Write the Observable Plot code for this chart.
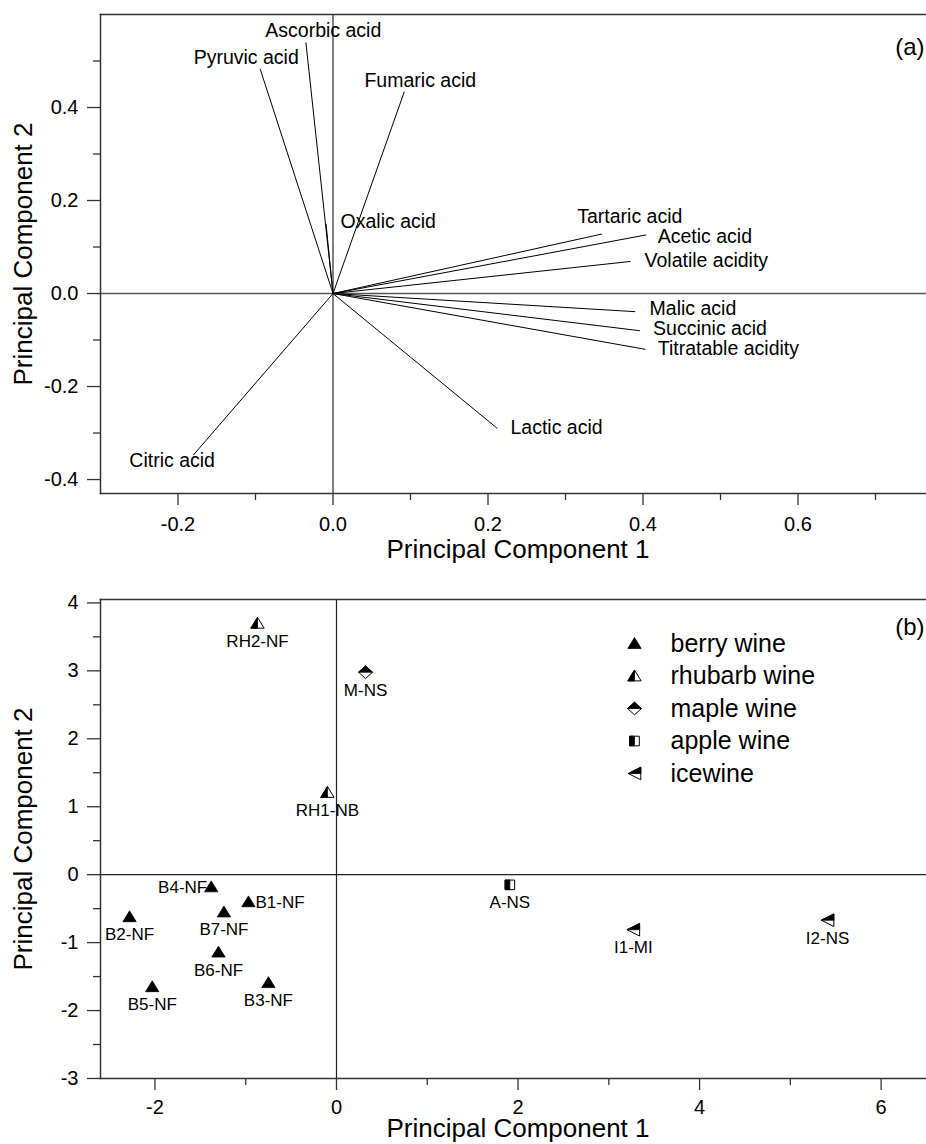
<!DOCTYPE html>
<html>
<head>
<meta charset="utf-8">
<script src="https://cdn.jsdelivr.net/npm/d3@7"></script>
<script src="https://cdn.jsdelivr.net/npm/@observablehq/plot@0.6"></script>
<style>
html, body { margin: 0; padding: 0; background: #fff; overflow: hidden; }
#chart { width: 926px; overflow: hidden; }
#chart svg { display: block; }
</style>
</head>
<body>
<div id="chart"></div>
<script>
// ---------- (a) loadings ----------
const variables = ["Pyruvic acid", "Ascorbic acid", "Fumaric acid", "Oxalic acid", "Tartaric acid", "Acetic acid",
  "Volatile acidity", "Malic acid", "Succinic acid", "Titratable acidity", "Lactic acid", "Citric acid"];
const loadPC1 = [-0.094, -0.035, 0.092, -0.009, 0.347, 0.404, 0.384, 0.390, 0.396, 0.403, 0.212, -0.180];
const loadPC2 = [0.483, 0.540, 0.434, 0.150, 0.128, 0.126, 0.069, -0.039, -0.080, -0.120, -0.290, -0.347];
// label anchor positions (data units)
const labelPC1 = [-0.112, -0.0125, 0.1126, 0.0098, 0.383, 0.419, 0.402, 0.4085, 0.413, 0.419, 0.229, -0.2076];
const labelPC2 = [0.506, 0.565, 0.457, 0.155, 0.165, 0.122, 0.0703, -0.0335, -0.0766, -0.118, -0.288, -0.360];
const labelAnchor = ["middle", "middle", "middle", "start", "middle", "start", "start", "start", "start", "start", "start", "middle"];

const topXMajor = [-0.2, 0.0, 0.2, 0.4, 0.6];
const topXMinor = [-0.1, 0.1, 0.3, 0.5, 0.7];
const topYMajor = [-0.4, -0.2, 0.0, 0.2, 0.4];
const topYMinor = [-0.3, -0.1, 0.1, 0.3, 0.5];

// ---------- (b) scores ----------
const samples = ["B1-NF", "B2-NF", "B3-NF", "B4-NF", "B5-NF", "B6-NF", "B7-NF", "RH1-NB", "RH2-NF", "M-NS", "A-NS", "I1-MI", "I2-NS"];
const wineType = ["berry wine", "berry wine", "berry wine", "berry wine", "berry wine", "berry wine", "berry wine",
  "rhubarb wine", "rhubarb wine", "maple wine", "apple wine", "icewine", "icewine"];
const scorePC1 = [-0.97, -2.28, -0.75, -1.38, -2.03, -1.30, -1.24, -0.10, -0.87, 0.32, 1.91, 3.27, 5.41];
const scorePC2 = [-0.40, -0.62, -1.59, -0.18, -1.65, -1.14, -0.55, 1.21, 3.70, 2.98, -0.15, -0.81, -0.67];
const legendTypes = ["berry wine", "rhubarb wine", "maple wine", "apple wine", "icewine"];

const botXMajor = [-2, 0, 2, 4, 6];
const botXMinor = [-1, 1, 3, 5];
const botYMajor = [-3, -2, -1, 0, 1, 2, 3, 4];
const botYMinor = [-2.5, -1.5, -0.5, 0.5, 1.5, 2.5, 3.5];

// ---------- helpers ----------
const font = "'Liberation Sans', Arial, Helvetica, sans-serif";
const ink = "#333";

function poly(points) {
  return {
    draw(ctx, size) {
      const r = Math.sqrt(size / Math.PI);
      ctx.moveTo(points[0][0] * r, points[0][1] * r);
      for (let i = 1; i < points.length; i++) ctx.lineTo(points[i][0] * r, points[i][1] * r);
      ctx.closePath();
    }
  };
}
const shapes = {
  "berry wine":   {full: poly([[0, -0.85], [0.95, 0.7], [-0.95, 0.7]]), half: null, r: 7},
  "rhubarb wine": {full: poly([[0, -0.85], [0.95, 0.7], [-0.95, 0.7]]), half: poly([[0, -0.85], [0, 0.7], [-0.95, 0.7]]), r: 7},
  "maple wine":   {full: poly([[0, -0.9], [1, 0], [0, 0.9], [-1, 0]]), half: poly([[0, -0.9], [1, 0], [-1, 0]]), r: 7},
  "apple wine":   {full: poly([[-1, -1], [1, -1], [1, 1], [-1, 1]]), half: poly([[-1, -1], [0, -1], [0, 1], [-1, 1]]), r: 4.8},
  "icewine":      {full: poly([[-0.9, 0], [0.9, -0.9], [0.9, 0.9]]), half: poly([[-0.9, 0], [0.9, -0.9], [0.9, 0]]), r: 7}
};
function symbolMarks(data, opts) {
  const out = [];
  for (const t of legendTypes) {
    const s = shapes[t];
    const d = data.filter(p => p.type === t);
    if (!d.length) continue;
    if (s.half) {
      out.push(Plot.dot(d, {...opts, symbol: s.full, r: s.r, fill: "white", stroke: "black", strokeWidth: 1}));
      out.push(Plot.dot(d, {...opts, symbol: s.half, r: s.r, fill: "black", stroke: "black", strokeWidth: 0.8}));
    } else {
      out.push(Plot.dot(d, {...opts, symbol: s.full, r: s.r, fill: "black", stroke: "black", strokeWidth: 0.8}));
    }
  }
  return out;
}
function openFrame() {
  return [
    Plot.frame({anchor: "top", stroke: ink, strokeWidth: 1.5}),
    Plot.frame({anchor: "bottom", stroke: ink, strokeWidth: 1.5}),
    Plot.frame({anchor: "left", stroke: ink, strokeWidth: 1.5})
  ];
}

// ---------- top chart ----------
const vectors = variables.map((name, i) => ({
  name, pc1: loadPC1[i], pc2: loadPC2[i], lx: labelPC1[i], ly: labelPC2[i], anchor: labelAnchor[i]
}));

const topChart = Plot.plot({
  width: 926, height: 568,
  marginLeft: 100, marginRight: 0, marginTop: 14, marginBottom: 75,
  style: {fontFamily: font, fontSize: "20px", color: "black", background: "white", overflow: "visible"},
  x: {domain: [-0.3, 0.7658]},
  y: {domain: [-0.43, 0.6]},
  marks: [
    Plot.ruleX([0], {stroke: "#555", strokeWidth: 1.5}),
    Plot.ruleY([0], {stroke: "#555", strokeWidth: 1.5}),
    Plot.link(vectors, {x1: 0, y1: 0, x2: "pc1", y2: "pc2", stroke: "black", strokeWidth: 1}),
    Plot.text(vectors.filter(d => d.anchor === "middle"), {x: "lx", y: "ly", text: "name", textAnchor: "middle", lineAnchor: "middle", fontSize: 19.5}),
    Plot.text(vectors.filter(d => d.anchor === "start"), {x: "lx", y: "ly", text: "name", textAnchor: "start", lineAnchor: "middle", fontSize: 19.5}),
    Plot.axisX(topXMajor, {tickSize: 12, tickPadding: 11, tickFormat: d => d.toFixed(1), label: null, stroke: ink, strokeWidth: 1.3}),
    Plot.axisX(topXMinor, {tickSize: 7, tickFormat: () => "", label: null, stroke: ink, strokeWidth: 1.3}),
    Plot.axisY(topYMajor, {tickSize: 13, tickPadding: 9, tickFormat: d => d.toFixed(1), label: null, stroke: ink, strokeWidth: 1.3}),
    Plot.axisY(topYMinor, {tickSize: 7, tickFormat: () => "", label: null, stroke: ink, strokeWidth: 1.3}),
    ...openFrame(),
    Plot.text(["Principal Component 1"], {frameAnchor: "bottom", dx: 4.5, dy: 56, textAnchor: "middle", lineAnchor: "middle", fontSize: 26}),
    Plot.text(["Principal Component 2"], {frameAnchor: "left", dx: -77, rotate: -90, textAnchor: "middle", lineAnchor: "middle", fontSize: 26}),
    Plot.text(["(a)"], {frameAnchor: "top-right", dx: -2, dy: 33, textAnchor: "end", lineAnchor: "middle", fontSize: 24})
  ]
});

// ---------- bottom chart ----------
const scores = samples.map((name, i) => ({name, type: wineType[i], pc1: scorePC1[i], pc2: scorePC2[i]}));
const leftLabeled = ["B4-NF"];
const rightLabeled = ["B1-NF"];

const legendMarks = [];
legendTypes.forEach((t, i) => {
  const s = shapes[t];
  const base = {frameAnchor: "top-right", dx: -292, dy: 44 + 32.5 * i, symbol: s.full, r: s.r};
  if (s.half) {
    legendMarks.push(Plot.dot([t], {...base, fill: "white", stroke: "black", strokeWidth: 1}));
    legendMarks.push(Plot.dot([t], {...base, symbol: s.half, fill: "black", stroke: "black", strokeWidth: 0.8}));
  } else {
    legendMarks.push(Plot.dot([t], {...base, fill: "black", stroke: "black", strokeWidth: 0.8}));
  }
  legendMarks.push(Plot.text([t], {frameAnchor: "top-right", dx: -256, dy: 44 + 32.5 * i, textAnchor: "start", lineAnchor: "middle", fontSize: 25}));
});

const botChart = Plot.plot({
  width: 926, height: 576,
  marginLeft: 100, marginRight: 0, marginTop: 31, marginBottom: 66,
  style: {fontFamily: font, fontSize: "20px", color: "black", background: "white", overflow: "visible"},
  x: {domain: [-2.6, 6.5]},
  y: {domain: [-3, 4.05]},
  marks: [
    Plot.ruleX([0], {stroke: "#222", strokeWidth: 1.2}),
    Plot.ruleY([0], {stroke: "#222", strokeWidth: 1.2}),
    ...symbolMarks(scores, {x: "pc1", y: "pc2"}),
    Plot.text(scores.filter(d => !leftLabeled.includes(d.name) && !rightLabeled.includes(d.name)),
      {x: "pc1", y: "pc2", text: "name", dy: 18, textAnchor: "middle", lineAnchor: "middle", fontSize: 17}),
    Plot.text(scores.filter(d => leftLabeled.includes(d.name)),
      {x: "pc1", y: "pc2", text: "name", dx: -4, dy: 1, textAnchor: "end", lineAnchor: "middle", fontSize: 17}),
    Plot.text(scores.filter(d => rightLabeled.includes(d.name)),
      {x: "pc1", y: "pc2", text: "name", dx: 7, dy: 1, textAnchor: "start", lineAnchor: "middle", fontSize: 17}),
    ...legendMarks,
    Plot.axisX(botXMajor, {tickSize: 12, tickPadding: 9, tickFormat: d => String(d), label: null, stroke: ink, strokeWidth: 1.3}),
    Plot.axisX(botXMinor, {tickSize: 7, tickFormat: () => "", label: null, stroke: ink, strokeWidth: 1.3}),
    Plot.axisY(botYMajor, {tickSize: 13, tickPadding: 9, tickFormat: d => String(d), label: null, stroke: ink, strokeWidth: 1.3}),
    Plot.axisY(botYMinor, {tickSize: 7, tickFormat: () => "", label: null, stroke: ink, strokeWidth: 1.3}),
    ...openFrame(),
    Plot.text(["Principal Component 1"], {frameAnchor: "bottom", dx: 4.5, dy: 50, textAnchor: "middle", lineAnchor: "middle", fontSize: 26}),
    Plot.text(["Principal Component 2"], {frameAnchor: "left", dx: -77, rotate: -90, textAnchor: "middle", lineAnchor: "middle", fontSize: 26}),
    Plot.text(["(b)"], {frameAnchor: "top-right", dx: -2, dy: 28, textAnchor: "end", lineAnchor: "middle", fontSize: 24})
  ]
});

const el = document.getElementById("chart");
el.appendChild(topChart);
el.appendChild(botChart);
</script>
</body>
</html>
